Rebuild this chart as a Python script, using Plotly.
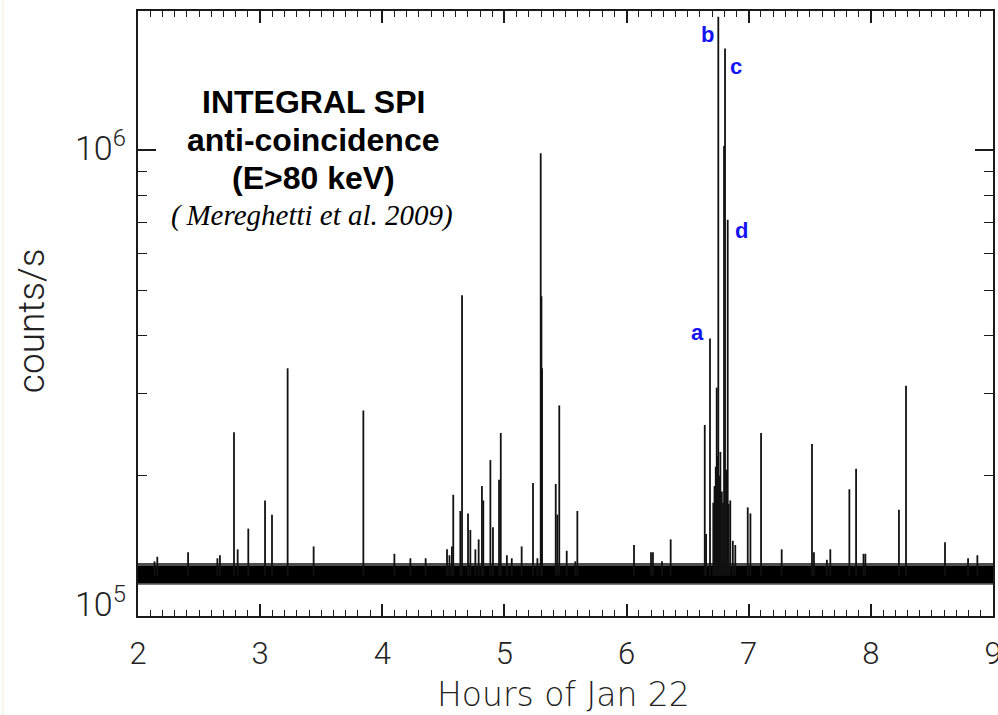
import math
import plotly.graph_objects as go

# ---------------- data ----------------
# spike (flare) times in hours of Jan 22 and their peak count rates
spike_hours = [2.135, 2.158, 2.410, 2.650, 2.671, 2.786, 2.816, 2.903, 3.040, 3.097,
               3.225, 3.438, 3.845, 4.099, 4.230, 4.355, 4.530, 4.550, 4.570, 4.581,
               4.639, 4.653, 4.702, 4.721, 4.762, 4.789, 4.816, 4.827, 4.885, 4.906,
               4.956, 4.970, 5.020, 5.060, 5.141, 5.234, 5.270, 5.297, 5.303, 5.308,
               5.420, 5.433, 5.449, 5.510, 5.580, 5.597, 6.061, 6.200, 6.216, 6.290,
               6.361, 6.640, 6.651, 6.683, 6.710, 6.720, 6.730, 6.738, 6.745, 6.751,
               6.760, 6.768, 6.780, 6.790, 6.798, 6.806, 6.815, 6.828, 6.836, 6.849,
               6.870, 6.890, 6.992, 7.014, 7.101, 7.270, 7.518, 7.534, 7.640, 7.668,
               7.824, 7.879, 7.940, 7.955, 8.230, 8.288, 8.607, 8.796, 8.872]
spike_peaks = [1.31e5, 1.34e5, 1.37e5, 1.33e5, 1.35e5, 2.48e5, 1.39e5, 1.54e5, 1.77e5, 1.65e5,
               3.40e5, 1.41e5, 2.76e5, 1.36e5, 1.33e5, 1.33e5, 1.39e5, 1.35e5, 1.41e5, 1.82e5,
               1.68e5, 4.88e5, 1.66e5, 1.53e5, 1.39e5, 1.46e5, 1.90e5, 1.77e5, 2.16e5, 1.55e5,
               1.96e5, 2.47e5, 1.35e5, 1.33e5, 1.41e5, 1.93e5, 1.33e5, 9.84e5, 4.85e5, 3.40e5,
               1.92e5, 1.65e5, 2.83e5, 1.38e5, 1.31e5, 1.68e5, 1.42e5, 1.37e5, 1.37e5, 1.31e5,
               1.46e5, 2.57e5, 1.50e5, 3.94e5, 1.75e5, 1.90e5, 2.09e5, 3.09e5, 2.20e5, 1.93e6,
               2.00e5, 2.25e5, 1.85e5, 1.75e5, 1.02e6, 1.65e6, 2.06e5, 7.08e5, 1.74e5, 1.77e5,
               1.45e5, 1.42e5, 1.71e5, 1.66e5, 2.47e5, 1.39e5, 2.34e5, 1.37e5, 1.32e5, 1.39e5,
               1.87e5, 2.07e5, 1.36e5, 1.36e5, 1.69e5, 3.12e5, 1.44e5, 1.33e5, 1.35e5]

# background level (noise band) of the anti-coincidence rate
background_level = 1.22e5
band_core = [1.177e5, 1.280e5]
band_outer = [1.167e5, 1.300e5]
time_range = [2, 9]

# labelled flares
flare_names = ["a", "b", "c", "d"]
flare_hours = [6.683, 6.751, 6.806, 6.828]
flare_peaks = [3.94e5, 1.93e6, 1.65e6, 7.08e5]

x_ticks = [2, 3, 4, 5, 6, 7, 8, 9]
y_major = [1e5, 1e6]
y_major_text = ["10<sup>5</sup>", "10<sup>6</sup>"]
y_minor = [2e5, 3e5, 4e5, 5e5, 6e5, 7e5, 8e5, 9e5, 2e6]

# ---------------- figure ----------------
fig = go.Figure()

# noise band: fringe and core
fig.add_trace(go.Scatter(x=time_range, y=[band_outer[0]] * 2, mode="lines",
                         line=dict(width=0), showlegend=False, hoverinfo="skip"))
fig.add_trace(go.Scatter(x=time_range, y=[band_outer[1]] * 2, mode="lines",
                         line=dict(width=0), fill="tonexty",
                         fillcolor="rgba(0,0,0,0.7)", showlegend=False, hoverinfo="skip"))
fig.add_trace(go.Scatter(x=time_range, y=[band_core[0]] * 2, mode="lines",
                         line=dict(width=0), showlegend=False, hoverinfo="skip"))
fig.add_trace(go.Scatter(x=time_range, y=[band_core[1]] * 2, mode="lines",
                         line=dict(width=0), fill="tonexty",
                         fillcolor="#000000", showlegend=False, hoverinfo="skip"))

# spikes
sx, sy = [], []
for h, p in zip(spike_hours, spike_peaks):
    sx += [h, h, None]
    sy += [background_level, p, None]
fig.add_trace(go.Scatter(x=sx, y=sy, mode="lines",
                         line=dict(color="#111111", width=1.8),
                         showlegend=False, hoverinfo="skip"))

axis_col = "#1a1a1a"
light_font = "Roboto, Liberation Sans, sans-serif"
tick_font = dict(family=light_font, size=31, color="#222222", weight=300)

fig.update_xaxes(range=time_range, tickvals=x_ticks,
                 ticktext=[str(v) for v in x_ticks], ticklabeloverflow="allow",
                 showline=True, linecolor=axis_col, linewidth=1.5, mirror="ticks",
                 ticks="inside", ticklen=12, tickwidth=1.5, tickcolor=axis_col,
                 showgrid=False, zeroline=False, tickfont=tick_font,
                 ticklabelstandoff=9,
                 minor=dict(ticks="inside", ticklen=6, dtick=0.1, tick0=2,
                            tickwidth=1.2, tickcolor=axis_col, showgrid=False))
fig.update_yaxes(type="log", range=[5, 6.298], tickvals=y_major, showticklabels=False,
                 showline=True, linecolor=axis_col, linewidth=1.5, mirror="ticks",
                 ticks="inside", ticklen=18, tickwidth=1.5, tickcolor=axis_col,
                 showgrid=False, zeroline=False,
                 minor=dict(ticks="inside", ticklen=9, tickvals=y_minor,
                            tickwidth=1.2, tickcolor=axis_col, showgrid=False))

annotations = []
# y tick labels
for v, t, ys in zip(y_major, y_major_text, [14, 4]):
    annotations.append(dict(x=0, xref="paper", xanchor="right", xshift=-10,
                            y=math.log10(v), yref="y", yanchor="middle", yshift=ys,
                            text=t, showarrow=False,
                            font=dict(family=light_font, size=34, color="#222222", weight=300)))
# axis titles
annotations.append(dict(x=(563 - 138) / 855, xref="paper", y=-(694 - 616) / 605, yref="paper",
                        yanchor="middle", text="Hours of Jan 22", showarrow=False,
                        font=dict(family="DejaVu Sans, Roboto, sans-serif", size=33,
                                  color="#222222", weight=200)))
annotations.append(dict(x=-0.125, xref="paper", xanchor="center",
                        y=1 - (321 - 11) / 605, yref="paper",
                        yanchor="middle", text="counts/s", textangle=-90, showarrow=False,
                        font=dict(family=light_font, size=37, color="#222222", weight=300)))
# title block
title_font = dict(family="Liberation Sans, Arial, sans-serif", size=32, color="#000000")
for txt, yy in zip(["<b>INTEGRAL SPI</b>", "<b>anti-coincidence</b>", "<b>(E>80 keV)</b>"],
                   [102, 140, 178]):
    annotations.append(dict(x=(313 - 138) / 855, xref="paper", y=1 - (yy - 11) / 605,
                            yref="paper", xanchor="center", yanchor="middle",
                            text=txt, showarrow=False, font=title_font))
annotations.append(dict(x=(312 - 138) / 855, xref="paper", y=1 - (215 - 11) / 605,
                        yref="paper", xanchor="center", yanchor="middle",
                        text="<i>(\u2009Mereghetti et al. 2009)</i>", showarrow=False,
                        font=dict(family="Liberation Serif, Times New Roman, serif",
                                  size=29, color="#000000")))
# flare labels
label_shift = {"a": (-12, 6), "b": (-11, -18), "c": (11, -18), "d": (14, -11)}
for n, h, p in zip(flare_names, flare_hours, flare_peaks):
    dx, dy = label_shift[n]
    annotations.append(dict(x=h, xref="x", y=math.log10(p), yref="y",
                            xshift=dx, yshift=dy, text="<b>" + n + "</b>", showarrow=False,
                            xanchor="center", yanchor="middle",
                            font=dict(family="Liberation Sans, Arial, sans-serif",
                                      size=22, color="#1414f0")))

fig.update_layout(width=998, height=715,
                  margin=dict(l=138, r=5, t=11, b=99, autoexpand=False),
                  plot_bgcolor="white", paper_bgcolor="white",
                  annotations=annotations,
                  shapes=[dict(type="line", xref="paper", yref="paper",
                               x0=-135 / 855, x1=-135 / 855, y0=-99 / 605, y1=1 + 11 / 605,
                               line=dict(color="#efe9d6", width=1))])

fig.write_html("out.html")
